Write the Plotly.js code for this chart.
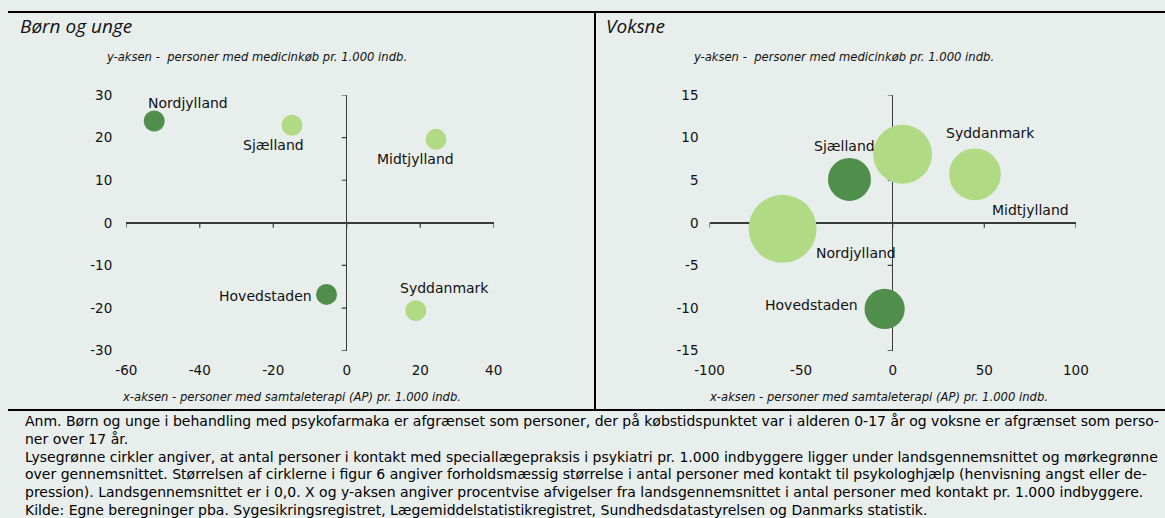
<!DOCTYPE html>
<html><head><meta charset="utf-8">
<script src="https://cdn.plot.ly/plotly-3.0.1.min.js"></script>
<style>html,body{margin:0;padding:0;background:#E8EEEC;} #chart{width:1165px;height:518px;}</style>
</head><body><div id="chart"></div>
<script>
// ---------- data ----------
const regions = ['Nordjylland', 'Sjælland', 'Midtjylland', 'Hovedstaden', 'Syddanmark'];
// Børn og unge
const childX = [-52.4, -14.9, 24.3, -5.5, 18.8];
const childY = [23.9, 22.9, 19.6, -16.8, -20.6];
const childAbove = [true, false, false, true, false];   // over gennemsnittet (mørkegrøn)
// Voksne
const adultX = [-60.1, -23.6, 44.9, -4.4, 5.4];
const adultY = [-0.7, 5.1, 5.7, -10.1, 8.05];
const adultSize = [100, 40, 58, 35, 75];                 // relativ størrelse (psykologhjælp)
const adultAbove = [false, true, false, true, false];
// axes
const childXTicks = [-60, -40, -20, 0, 20, 40];
const childYTicks = [-30, -20, -10, 0, 10, 20, 30];
const adultXTicks = [-100, -50, 0, 50, 100];
const adultYTicks = [-15, -10, -5, 0, 5, 10, 15];
const titles = ['Børn og unge', 'Voksne'];
const yAxisText = 'y-aksen -  personer med medicinkøb pr. 1.000 indb.';
const xAxisText = 'x-aksen - personer med samtaleterapi (AP) pr. 1.000 indb.';
const noteLines = [
  'Anm. Børn og unge i behandling med psykofarmaka er afgrænset som personer, der på købstidspunktet var i alderen 0-17 år og voksne er afgrænset som perso-',
  'ner over 17 år.',
  'Lysegrønne cirkler angiver, at antal personer i kontakt med speciallægepraksis i psykiatri pr. 1.000 indbyggere ligger under landsgennemsnittet og mørkegrønne',
  'over gennemsnittet. Størrelsen af cirklerne i figur 6 angiver forholdsmæssig størrelse i antal personer med kontakt til psykologhjælp (henvisning angst eller de-',
  'pression). Landsgennemsnittet er i 0,0. X og y-aksen angiver procentvise afvigelser fra landsgennemsnittet i antal personer med kontakt pr. 1.000 indbyggere.',
  'Kilde: Egne beregninger pba. Sygesikringsregistret, Lægemiddelstatistikregistret, Sundhedsdatastyrelsen og Danmarks statistik.'
];

// ---------- styling / layout helpers ----------
const W = 1165, H = 518;
const DARK = '#4F8F4B', LIGHT = '#B1DA84', BG = '#E8EEEC', AX = '#3a3a3a';
const FONT = 'DejaVu Sans, sans-serif';
const childLabelShift = [[34, 18], [-19, -20], [-21, -20], [-61, -2], [29, 23]];
const adultLabelShift = [[73, -24], [-5, 33], [56, -36], [-73, 4], [88, 21]];
const px = v => v / W, py = v => 1 - v / H;

const dom1 = [px(126.3), px(493.7)], dom2 = [px(709.5), px(1075.9)];
const ydom = [py(350.7), py(95)];

const traces = [
  {type: 'scatter', mode: 'markers', x: childX, y: childY, xaxis: 'x', yaxis: 'y',
   marker: {size: 21, color: childAbove.map(a => a ? DARK : LIGHT), line: {width: 0}, opacity: 1},
   hoverinfo: 'skip', showlegend: false},
  {type: 'scatter', mode: 'markers', x: adultX, y: adultY, xaxis: 'x2', yaxis: 'y2',
   marker: {size: adultSize, sizemode: 'area', sizeref: 2 * Math.max(...adultSize) / (68 * 68),
            color: adultAbove.map(a => a ? DARK : LIGHT), line: {width: 0}, opacity: 1},
   hoverinfo: 'skip', showlegend: false}
];

const tickFont = {family: FONT, size: 13.5, color: '#111'};
function xax(dom, ticks, anchor) {
  return {domain: dom, range: [ticks[0], ticks[ticks.length - 1]], tickvals: ticks, ticktext: ticks.map(String),
          anchor: anchor, showgrid: false, showline: false, ticks: '', zeroline: true, zerolinecolor: AX,
          zerolinewidth: 1.4, tickfont: tickFont, ticklabelstandoff: 10, fixedrange: true};
}
function yax(ticks, anchor, standoff) {
  return {domain: ydom, range: [ticks[0], ticks[ticks.length - 1]], tickvals: ticks, ticktext: ticks.map(String),
          anchor: anchor, showgrid: false, showline: false, ticks: '', zeroline: true, zerolinecolor: AX,
          zerolinewidth: 1.4, tickfont: tickFont, ticklabelstandoff: standoff, fixedrange: true};
}

const shapes = [];
function tickShapes(xt, yt, xr, yr) {
  xt.forEach(v => shapes.push({type: 'line', xref: xr, yref: yr, x0: v, x1: v, ysizemode: 'pixel', yanchor: 0,
    y0: 0, y1: -5, line: {color: AX, width: 1.2}, layer: 'below'}));
  yt.forEach(v => shapes.push({type: 'line', xref: xr, yref: yr, y0: v, y1: v, xsizemode: 'pixel', xanchor: 0,
    x0: 0, x1: -5, line: {color: AX, width: 1.2}, layer: 'below'}));
}
tickShapes(childXTicks, childYTicks, 'x', 'y');
tickShapes(adultXTicks, adultYTicks, 'x2', 'y2');
// frame lines
shapes.push({type: 'line', xref: 'paper', yref: 'paper', x0: px(8), x1: 1, y0: py(12), y1: py(12), line: {color: '#000', width: 2}});
shapes.push({type: 'line', xref: 'paper', yref: 'paper', x0: px(8), x1: 1, y0: py(410), y1: py(410), line: {color: '#000', width: 2}});
shapes.push({type: 'line', xref: 'paper', yref: 'paper', x0: px(595), x1: px(595), y0: py(12), y1: py(410), line: {color: '#000', width: 2}});

const annotations = [];
function labels(xs, ys, shifts, xr, yr) {
  regions.forEach((r, i) => annotations.push({xref: xr, yref: yr, x: xs[i], y: ys[i], text: r, showarrow: false,
    xshift: shifts[i][0], yshift: shifts[i][1], xanchor: 'center', yanchor: 'middle',
    font: {family: FONT, size: 14, color: '#111'}}));
}
labels(childX, childY, childLabelShift, 'x', 'y');
labels(adultX, adultY, adultLabelShift, 'x2', 'y2');
// panel titles
[[18, titles[0]], [604, titles[1]]].forEach(([x, t]) => annotations.push({xref: 'paper', yref: 'paper',
  x: px(x), y: py(26), text: '<i>' + t + '</i>', showarrow: false, xanchor: 'left', yanchor: 'middle',
  font: {family: 'Open Sans, sans-serif', size: 19, color: '#111'}}));
// axis captions
[104, 691].forEach(x => annotations.push({xref: 'paper', yref: 'paper', x: px(x), y: py(57), text: '<i>' + yAxisText + '</i>',
  showarrow: false, xanchor: 'left', yanchor: 'middle', font: {family: FONT, size: 11.6, color: '#111'}}));
[291, 878].forEach(x => annotations.push({xref: 'paper', yref: 'paper', x: px(x), y: py(397), text: '<i>' + xAxisText + '</i>',
  showarrow: false, xanchor: 'center', yanchor: 'middle', font: {family: FONT, size: 11.6, color: '#111'}}));
// note lines
noteLines.forEach((t, i) => annotations.push({xref: 'paper', yref: 'paper', x: px(23), y: py(420.7 + i * 17.9), text: t,
  showarrow: false, xanchor: 'left', yanchor: 'middle', font: {family: FONT, size: 14, color: '#000'}}));

const layout = {
  width: W, height: H, margin: {l: 0, r: 0, t: 0, b: 0, pad: 0},
  paper_bgcolor: BG, plot_bgcolor: 'rgba(0,0,0,0)', showlegend: false,
  xaxis: xax(dom1, childXTicks, 'y'), yaxis: yax(childYTicks, 'x', 13),
  xaxis2: xax(dom2, adultXTicks, 'y2'), yaxis2: yax(adultYTicks, 'x2', 10),
  shapes: shapes, annotations: annotations
};
Plotly.newPlot('chart', traces, layout, {staticPlot: true, displayModeBar: false});
</script></body></html>
